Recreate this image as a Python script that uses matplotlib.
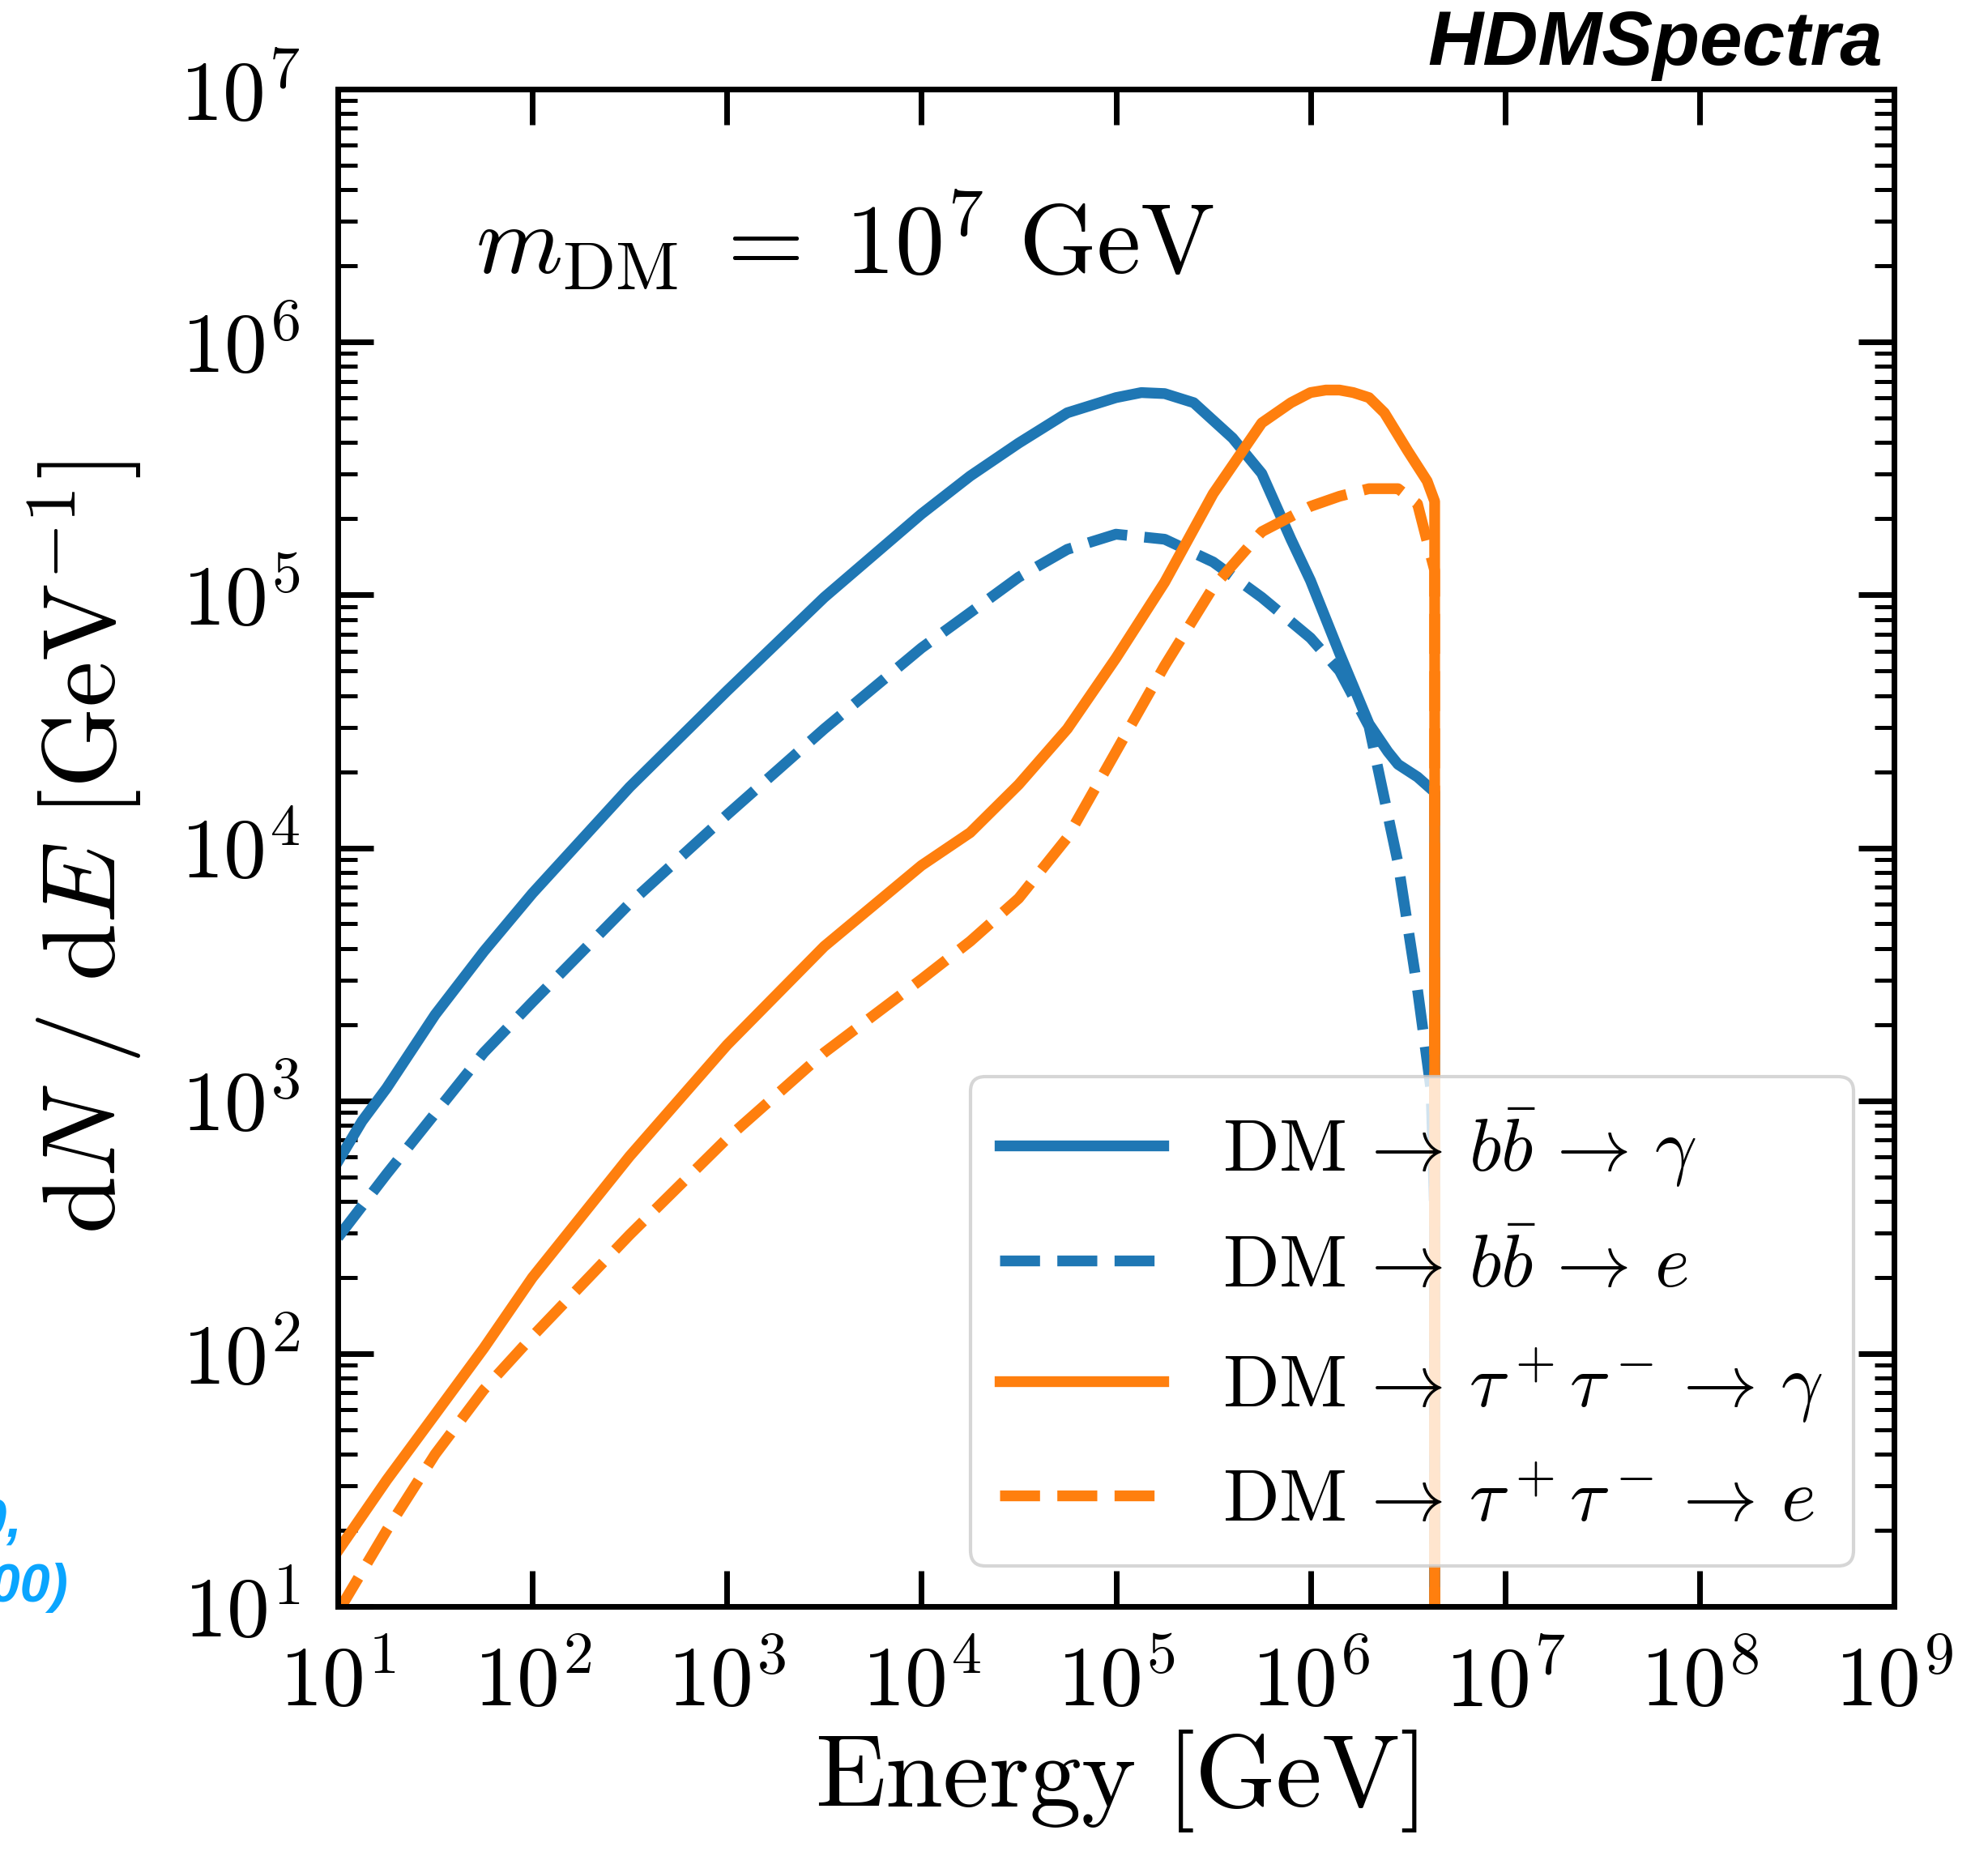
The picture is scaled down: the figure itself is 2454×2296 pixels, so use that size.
import numpy as np
import matplotlib
matplotlib.use("Agg")
import matplotlib.pyplot as plt
from matplotlib.ticker import LogLocator, NullLocator, FuncFormatter

plt.rcParams['mathtext.fontset'] = 'cm'
plt.rcParams['font.family'] = 'serif'
plt.rcParams['font.serif'] = ['cmr10', 'DejaVu Serif']
plt.rcParams['axes.formatter.use_mathtext'] = True

# spectra, m_DM = 1e7 GeV
E_bb_gam = [10, 13.3, 17.8, 31.6, 56.2, 100, 316, 1000, 3162, 1.0e4, 1.78e4,
            3.16e4, 5.62e4, 1.0e5, 1.35e5, 1.78e5, 2.51e5, 3.98e5, 5.62e5,
            7.94e5, 1.0e6, 1.41e6, 2.0e6, 2.5e6, 2.82e6, 3.55e6, 4.35e6, 4.36e6]
dN_bb_gam = [575, 830, 1122, 2188, 3890, 6607, 17378, 41687, 97724, 208930,
             295121, 398107, 524807, 602560, 630957, 625000, 575440, 416869,
             302000, 165959, 114000, 58884, 30903, 23988, 21380, 19055, 16600,
             1e-3]

E_bb_e = [10, 17.8, 31.6, 56.2, 100, 316, 1000, 3162, 1.0e4, 1.78e4, 3.16e4,
          5.62e4, 1.0e5, 1.78e5, 3.16e5, 5.62e5, 1.0e6, 1.41e6, 2.0e6, 2.82e6,
          3.55e6, 4.17e6, 4.35e6, 4.36e6]
dN_bb_e = [288, 513, 891, 1549, 2455, 6026, 13490, 29512, 61660, 85114, 117490,
           151356, 173780, 165959, 134896, 97724, 67608, 50119, 30200, 8710,
           2754, 1096, 350, 1e-3]

E_tt_gam = [10, 17.8, 31.6, 56.2, 100, 316, 1000, 3162, 1.0e4, 1.78e4, 3.16e4,
            5.62e4, 1.0e5, 1.78e5, 3.16e5, 5.62e5, 7.94e5, 1.0e6, 1.2e6, 1.41e6,
            1.66e6, 2.0e6, 2.4e6, 3.16e6, 3.98e6, 4.35e6, 4.36e6]
dN_tt_gam = [16.6, 31.6, 57.5, 105, 200, 603, 1660, 4074, 8511, 11482, 17783,
             29512, 56234, 112202, 251189, 478630, 575440, 630957, 645654,
             645654, 630957, 602560, 524807, 371535, 281838, 234423, 1e-3]

E_tt_e = [10, 17.8, 31.6, 56.2, 100, 316, 1000, 3162, 1.0e4, 1.78e4, 3.16e4,
          5.62e4, 1.0e5, 1.78e5, 3.16e5, 5.62e5, 1.0e6, 1.41e6, 2.0e6, 2.82e6,
          3.55e6, 4.17e6, 4.35e6, 4.36e6]
dN_tt_e = [9.5, 20, 40, 72, 117, 295, 708, 1549, 3020, 4266, 6310, 10965, 23988,
           52481, 107152, 177828, 223872, 245471, 263027, 263027, 229087,
           141254, 125000, 1e-3]

labels = [r'$\mathrm{DM} \,\to\, b\bar{b} \,\to\, \gamma$',
          r'$\mathrm{DM} \,\to\, b\bar{b} \,\to\, e$',
          r'$\mathrm{DM} \,\to\, \tau^+\tau^- \to\, \gamma$',
          r'$\mathrm{DM} \,\to\, \tau^+\tau^- \to\, e$']

fig = plt.figure(figsize=(12.27, 11.48), dpi=200)
ax = fig.add_axes([0.170, 0.1363, 0.7827, 0.8158])

lw = 4.8
ax.plot(E_bb_gam, dN_bb_gam, color='#1f77b4', lw=lw, label=labels[0])
ax.plot(E_bb_e, dN_bb_e, color='#1f77b4', lw=lw, ls='--', label=labels[1])
ax.plot(E_tt_gam, dN_tt_gam, color='#ff7f0e', lw=lw, label=labels[2])
ax.plot(E_tt_e, dN_tt_e, color='#ff7f0e', lw=lw, ls='--', label=labels[3])

ax.set_xscale('log')
ax.set_yscale('log')
ax.set_xlim(1e1, 1e9)
ax.set_ylim(1e1, 1e7)

ax.xaxis.set_major_locator(LogLocator(base=10, numticks=20))
ax.xaxis.set_minor_locator(NullLocator())
ax.yaxis.set_major_locator(LogLocator(base=10, numticks=20))
ax.yaxis.set_minor_locator(LogLocator(base=10, subs=np.arange(2, 10), numticks=20))
fmt = FuncFormatter(lambda v, p: r'$10^{%d}$' % int(round(np.log10(v))))
ax.xaxis.set_major_formatter(fmt)
ax.yaxis.set_major_formatter(fmt)

for s in ax.spines.values():
    s.set_linewidth(2.5)
ax.tick_params(which='both', direction='in', top=True, right=True)
ax.tick_params(which='major', length=16, width=2.5, labelsize=38, pad=17)
ax.tick_params(which='minor', length=8.5, width=1.8)

ax.set_xlabel(r'$\mathrm{Energy\ [GeV]}$', fontsize=46, labelpad=2)
ax.set_ylabel(r'$\mathrm{d}N\ /\ \mathrm{d}E\ [\mathrm{GeV}^{-1}]$', fontsize=46, labelpad=16)

ax.text(0.0885, 0.90, r'$m_{\mathrm{DM}} \;=\; 10^7\ \mathrm{GeV}$', transform=ax.transAxes,
        fontsize=44, ha='left', va='center')

leg = ax.legend(loc='lower right', fontsize=33, handlelength=2.2, handletextpad=0.8,
                borderaxespad=0.55, labelspacing=0.6, borderpad=0.4)
leg.get_frame().set_linewidth(1.5)

fig.text(2324 / 2454, 1 - 55 / 2296, 'HDMSpectra', family='Liberation Sans',
         fontweight='bold', style='italic', fontsize=34, ha='right', va='center')

# partly hidden attribution on the left edge
fig.text(27 / 2454, 1 - 1880 / 2296, 'Bauer, Rodd, Safdi (2020,', family='Liberation Sans',
         fontweight='bold', style='italic', fontsize=24, color='#0AA5FF', ha='right', va='center')
fig.text(85 / 2454, 1 - 1960 / 2296, 'arXiv:2007.15000)', family='Liberation Sans',
         fontweight='bold', style='italic', fontsize=24, color='#0AA5FF', ha='right', va='center')

fig.savefig('out.png', dpi=200)
